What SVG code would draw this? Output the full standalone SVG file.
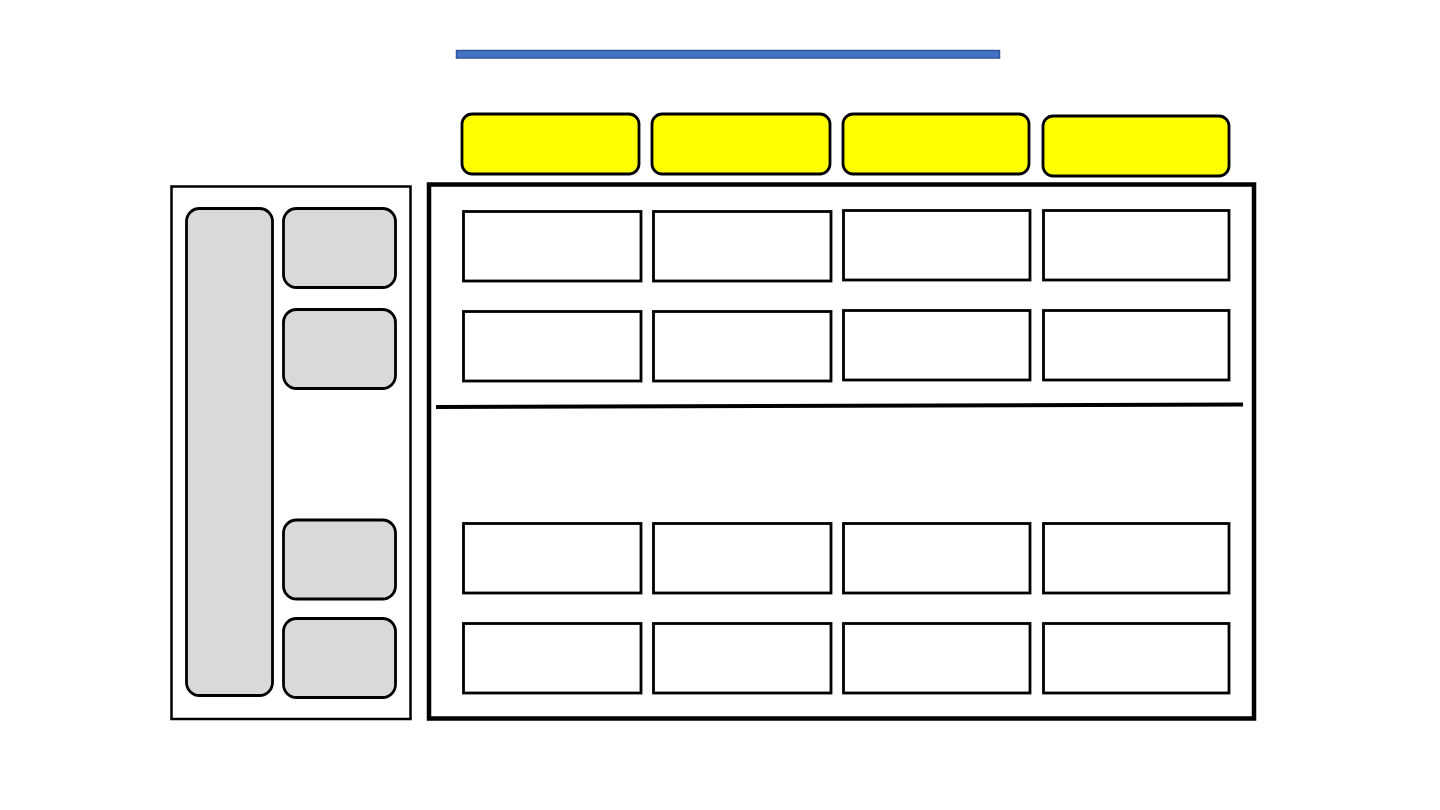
<svg xmlns="http://www.w3.org/2000/svg" width="1440" height="810" viewBox="0 0 1440 810">
<style>
.bar{fill:#4472C4;stroke:#2F5597;stroke-width:1.5}
.hdr{fill:#FFFF00;stroke:#000;stroke-width:2.8}
.gray{fill:#D9D9D9;stroke:#000;stroke-width:2.8}
.cell{fill:#FFFFFF;stroke:#000;stroke-width:2.8}
.frame{fill:#FFFFFF;stroke:#000;stroke-width:2.5}
.main{fill:#FFFFFF;stroke:#000;stroke-width:4.5}
</style>
<rect width="1440" height="810" fill="#FFFFFF"/>
<g id="title-bar"><rect class="bar" x="456.5" y="50.5" width="543" height="7.5"/></g>
<g id="headers">
<rect id="h1" class="hdr" x="462" y="114" width="177" height="60" rx="10"/>
<rect id="h2" class="hdr" x="652" y="114" width="178" height="60" rx="10"/>
<rect id="h3" class="hdr" x="843" y="114" width="186" height="60" rx="10"/>
<rect id="h4" class="hdr" x="1043" y="116" width="186" height="60" rx="10"/>
</g>
<g id="left-panel">
<rect class="frame" x="171.5" y="186.5" width="239" height="532.5"/>
<rect id="g-tall" class="gray" x="186.5" y="208.5" width="86" height="487" rx="13"/>
<rect id="g1" class="gray" x="283.5" y="208.5" width="112" height="79" rx="13"/>
<rect id="g2" class="gray" x="283.5" y="309.5" width="112" height="79" rx="13"/>
<rect id="g3" class="gray" x="283.5" y="520" width="112" height="79" rx="13"/>
<rect id="g4" class="gray" x="283.5" y="618.5" width="112" height="79" rx="13"/>
</g>
<g id="main-panel">
<rect class="main" x="429" y="184.5" width="825" height="534"/>
<g id="row1">
<rect class="cell" x="463.5" y="211.5" width="177.5" height="69.5"/>
<rect class="cell" x="653.5" y="211.5" width="177.5" height="69.5"/>
<rect class="cell" x="843.5" y="210.5" width="186.5" height="69.5"/>
<rect class="cell" x="1043.5" y="210.5" width="185.5" height="69.5"/>
</g>
<g id="row2">
<rect class="cell" x="463.5" y="311.5" width="177.5" height="69.5"/>
<rect class="cell" x="653.5" y="311.5" width="177.5" height="69.5"/>
<rect class="cell" x="843.5" y="310.5" width="186.5" height="69.5"/>
<rect class="cell" x="1043.5" y="310.5" width="185.5" height="69.5"/>
</g>
<g id="row3">
<rect class="cell" x="463.5" y="523.5" width="177.5" height="69.5"/>
<rect class="cell" x="653.5" y="523.5" width="177.5" height="69.5"/>
<rect class="cell" x="843.5" y="523.5" width="186.5" height="69.5"/>
<rect class="cell" x="1043.5" y="523.5" width="185.5" height="69.5"/>
</g>
<g id="row4">
<rect class="cell" x="463.5" y="623.5" width="177.5" height="69.5"/>
<rect class="cell" x="653.5" y="623.5" width="177.5" height="69.5"/>
<rect class="cell" x="843.5" y="623.5" width="186.5" height="69.5"/>
<rect class="cell" x="1043.5" y="623.5" width="185.5" height="69.5"/>
</g>
</g>
<g id="connectors">
<line x1="436" y1="407" x2="1243" y2="404.5" stroke="#000" stroke-width="4"/>
</g>
</svg>
